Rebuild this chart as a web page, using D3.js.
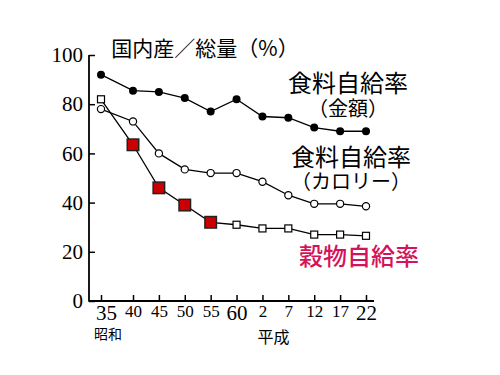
<!DOCTYPE html>
<html>
<head>
<meta charset="utf-8">
<script src="https://cdn.jsdelivr.net/npm/d3@7"></script>
<style>
  body { margin: 0; background: #fff; }
</style>
</head>
<body>
<div id="chart"></div>
<script>
// survey years, Showa 35 .. Heisei 22
const years = [1960, 1965, 1970, 1975, 1980, 1985, 1990, 1995, 2000, 2005, 2010];
const yearLabels = ['35', '40', '45', '50', '55', '60', '2', '7', '12', '17', '22'];
const bigLabels = ['35', '60', '22'];
const yTicks = [0, 20, 40, 60, 80, 100];

// 食料自給率（金額）
const valueRate = [92, 85.5, 85, 82.5, 77, 82, 75, 74.5, 70.5, 69, 69];
// 食料自給率（カロリー）
const calorieRate = [78, 73, 60, 53.5, 52, 52, 48.5, 43, 39.5, 39.5, 38.5];
// 穀物自給率
const grainRate = [82, 63.5, 46, 39, 32, 31, 29.5, 29.5, 27, 27, 26.5];
// years drawn as big red squares
const highlightYears = [1965, 1970, 1975, 1980];

const width = 500;
const height = 375;
const serif = '"Liberation Serif", "DejaVu Serif", serif';
const jp = '"Noto Sans CJK JP", sans-serif';
const magenta = '#d4145a';

const svg = d3.select('#chart')
  .append('svg')
  .attr('width', width)
  .attr('height', height);

// y: 0..100, x: first gap is a bit wider than the rest
const y = d3.scaleLinear().domain([0, 100]).range([301, 55]);
const x = d3.scaleLinear().domain([1960, 1965, 2010]).range([101, 133, 366]);

// y axis
const yAxis = svg.append('g')
  .attr('transform', 'translate(89,0)')
  .call(d3.axisLeft(y).tickValues(yTicks).tickSizeInner(-6).tickSizeOuter(0).tickPadding(6));
yAxis.select('.domain').remove();
yAxis.selectAll('line').attr('stroke', '#000').attr('stroke-width', 1.5);
yAxis.selectAll('text')
  .attr('font-family', serif)
  .attr('font-size', 21)
  .attr('fill', '#000');

// x axis
const xAxis = svg.append('g')
  .attr('transform', 'translate(0,301)')
  .call(d3.axisBottom(x).tickValues(years).tickFormat((d, i) => yearLabels[i])
    .tickSizeInner(-6).tickSizeOuter(0).tickPadding(4));
xAxis.select('.domain').remove();
xAxis.selectAll('line').attr('stroke', '#000').attr('stroke-width', 1.5);
xAxis.selectAll('text')
  .attr('font-family', serif)
  .attr('fill', '#000')
  .attr('font-size', (d, i) => bigLabels.includes(yearLabels[i]) ? 21 : 17)
  .attr('dx', (d, i) => i === 0 ? 5 : 0);

// axis lines
svg.append('line')
  .attr('x1', 89).attr('x2', 89)
  .attr('y1', y(100)).attr('y2', y(0) + 0.75)
  .attr('stroke', '#000').attr('stroke-width', 1.8);
svg.append('line')
  .attr('x1', 89).attr('x2', 374)
  .attr('y1', y(0)).attr('y2', y(0))
  .attr('stroke', '#000').attr('stroke-width', 1.8);

// era names under the first year of each era
svg.append('text')
  .attr('x', x(1960) + 7).attr('y', 333)
  .attr('text-anchor', 'middle').attr('dominant-baseline', 'central')
  .attr('font-family', jp).attr('font-size', 14)
  .text('昭和');
svg.append('text')
  .attr('x', x(1990) + 11).attr('y', 336)
  .attr('text-anchor', 'middle').attr('dominant-baseline', 'central')
  .attr('font-family', jp).attr('font-size', 16)
  .text('平成');

const line = d3.line()
  .x((d, i) => x(years[i]))
  .y(d => y(d));

function drawLine(values) {
  svg.append('path')
    .datum(values)
    .attr('d', line)
    .attr('fill', 'none')
    .attr('stroke', '#000')
    .attr('stroke-width', 1.3);
}

drawLine(valueRate);
drawLine(calorieRate);
drawLine(grainRate);

// 金額: filled circles
svg.selectAll('.value-dot')
  .data(valueRate)
  .join('circle')
  .attr('class', 'value-dot')
  .attr('cx', (d, i) => x(years[i]))
  .attr('cy', d => y(d))
  .attr('r', 4)
  .attr('fill', '#000');

// カロリー: open circles
svg.selectAll('.cal-dot')
  .data(calorieRate)
  .join('circle')
  .attr('class', 'cal-dot')
  .attr('cx', (d, i) => x(years[i]))
  .attr('cy', d => y(d))
  .attr('r', 3.6)
  .attr('fill', '#fff')
  .attr('stroke', '#000')
  .attr('stroke-width', 1.2);

// 穀物: squares, red ones bigger
svg.selectAll('.grain-dot')
  .data(grainRate)
  .join('rect')
  .attr('class', 'grain-dot')
  .each(function (d, i) {
    const hot = highlightYears.includes(years[i]);
    const s = hot ? 11.5 : 7;
    d3.select(this)
      .attr('x', x(years[i]) - s / 2)
      .attr('y', y(d) - s / 2)
      .attr('width', s)
      .attr('height', s)
      .attr('fill', hot ? '#cc0000' : '#fff')
      .attr('stroke', hot ? '#222' : '#000')
      .attr('stroke-width', hot ? 1.5 : 1.2);
  });

// titles and series labels
function label(text, cx, cy, size, color, weight) {
  svg.append('text')
    .attr('x', cx).attr('y', cy)
    .attr('text-anchor', 'middle')
    .attr('dominant-baseline', 'central')
    .attr('font-family', jp)
    .attr('font-size', size)
    .attr('font-weight', weight || 400)
    .attr('fill', color || '#000')
    .text(text);
}

label('国内産／総量（%）', 205, 47, 21);
label('食料自給率', 348, 81, 24);
label('（金額）', 348, 107, 20);
label('食料自給率', 351, 155, 24);
label('（カロリー）', 351, 180, 20);
label('穀物自給率', 359, 254, 24, magenta, 500);
</script>
</body>
</html>
